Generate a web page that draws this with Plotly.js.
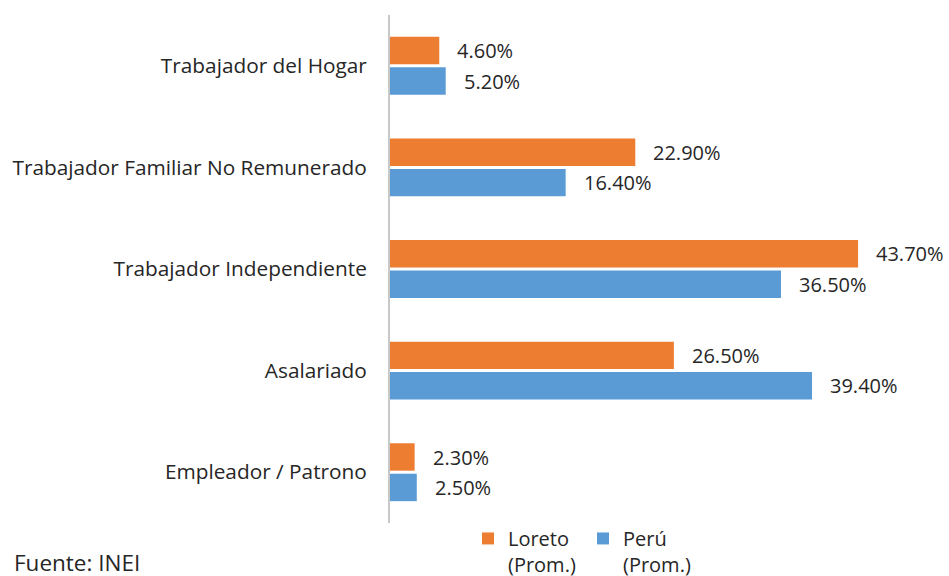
<!DOCTYPE html>
<html><head><meta charset="utf-8">
<script src="https://cdn.plot.ly/plotly-3.0.1.min.js"></script>
<style>body{margin:0;background:#fff}#c{width:949px;height:576px}</style>
</head><body><div id="c"></div>
<script>
const categories = ["Trabajador del Hogar","Trabajador Familiar No Remunerado","Trabajador Independiente","Asalariado","Empleador / Patrono"];
const loreto = [4.6, 22.9, 43.7, 26.5, 2.3];
const peru = [5.2, 16.4, 36.5, 39.4, 2.5];
const seriesNames = ["Loreto<br>(Prom.)","Perú<br>(Prom.)"];
const fnt = "Open Sans, sans-serif";
const txtColor = "#262626";
const fmt = v => v.toFixed(2) + "%";
const traces = [
  {type:"bar", orientation:"h", name:seriesNames[0], y:categories, x:loreto, marker:{color:"#ED7D31"}, hoverinfo:"none"},
  {type:"bar", orientation:"h", name:seriesNames[1], y:categories, x:peru, marker:{color:"#5B9BD5"}, hoverinfo:"none"}
];
const annotations = [];
const seriesVals = [loreto, peru];
const shifts = [15.2, -15.2];
seriesVals.forEach((vals, s) => vals.forEach((v, i) => {
  annotations.push({x:v, y:categories[i], xref:"x", yref:"y", text:fmt(v), showarrow:false,
    xanchor:"left", yanchor:"middle", xshift:16, yshift:shifts[s],
    font:{size:20,color:txtColor,family:fnt}});
}));
annotations.push({text:"Fuente: INEI", xref:"paper", yref:"paper", x:-378/557, y:-57/508, xanchor:"left", yanchor:"bottom",
  showarrow:false, font:{size:22.5,color:txtColor,family:fnt}});
const layout = {
  width:949, height:576,
  margin:{l:390, r:2, t:15, b:53, autoexpand:false},
  paper_bgcolor:"#fff", plot_bgcolor:"#fff",
  font:{family:fnt, size:20, color:txtColor},
  barmode:"group", bargap:0.4, bargroupgap:0.1,
  showlegend:true,
  legend:{orientation:"h", x:0.14, xanchor:"left", y:0.008, yanchor:"top", valign:"top",
    font:{size:20,color:txtColor,family:fnt}, entrywidth:70, tracegroupgap:0, bgcolor:"rgba(0,0,0,0)"},
  xaxis:{range:[0,52], showticklabels:false, showgrid:false, zeroline:false, showline:false, ticks:""},
  yaxis:{autorange:"reversed", showline:true, linecolor:"#c8c8c8", linewidth:2, ticks:"outside", ticklen:17,
    tickcolor:"rgba(0,0,0,0)", showgrid:false, tickfont:{size:20.8,color:txtColor,family:fnt}},
  annotations:annotations
};
Plotly.newPlot("c", traces, layout, {displayModeBar:false, staticPlot:true});
</script></body></html>
